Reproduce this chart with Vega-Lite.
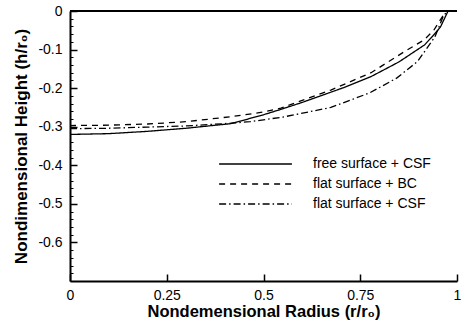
{
  "$schema": "https://vega.github.io/schema/vega-lite/v6.json",
  "width": 387,
  "height": 270,
  "autosize": "none",
  "padding": {"left": 70, "top": 11, "right": 5, "bottom": 39},
  "config": {"view": {"stroke": null}, "font": "Liberation Sans"},
  "data": {
    "values": [
      {"series": "free surface + CSF", "r": 0, "h": -0.32},
      {"series": "free surface + CSF", "r": 0.1, "h": -0.318},
      {"series": "free surface + CSF", "r": 0.2, "h": -0.312},
      {"series": "free surface + CSF", "r": 0.3, "h": -0.304},
      {"series": "free surface + CSF", "r": 0.416, "h": -0.292},
      {"series": "free surface + CSF", "r": 0.5, "h": -0.269},
      {"series": "free surface + CSF", "r": 0.545, "h": -0.255},
      {"series": "free surface + CSF", "r": 0.6, "h": -0.237},
      {"series": "free surface + CSF", "r": 0.709, "h": -0.198},
      {"series": "free surface + CSF", "r": 0.778, "h": -0.17},
      {"series": "free surface + CSF", "r": 0.85, "h": -0.132},
      {"series": "free surface + CSF", "r": 0.916, "h": -0.088},
      {"series": "free surface + CSF", "r": 0.94, "h": -0.062},
      {"series": "free surface + CSF", "r": 0.957, "h": -0.042},
      {"series": "free surface + CSF", "r": 0.977, "h": 0},
      {"series": "flat surface + BC", "r": 0, "h": -0.297},
      {"series": "flat surface + BC", "r": 0.1, "h": -0.296},
      {"series": "flat surface + BC", "r": 0.2, "h": -0.293},
      {"series": "flat surface + BC", "r": 0.3, "h": -0.287},
      {"series": "flat surface + BC", "r": 0.416, "h": -0.274},
      {"series": "flat surface + BC", "r": 0.5, "h": -0.262},
      {"series": "flat surface + BC", "r": 0.545, "h": -0.252},
      {"series": "flat surface + BC", "r": 0.674, "h": -0.205},
      {"series": "flat surface + BC", "r": 0.778, "h": -0.16},
      {"series": "flat surface + BC", "r": 0.863, "h": -0.106},
      {"series": "flat surface + BC", "r": 0.915, "h": -0.075},
      {"series": "flat surface + BC", "r": 0.94, "h": -0.05},
      {"series": "flat surface + BC", "r": 0.962, "h": -0.015},
      {"series": "flat surface + BC", "r": 0.972, "h": 0},
      {"series": "flat surface + CSF", "r": 0, "h": -0.305},
      {"series": "flat surface + CSF", "r": 0.1, "h": -0.304},
      {"series": "flat surface + CSF", "r": 0.2, "h": -0.301},
      {"series": "flat surface + CSF", "r": 0.3, "h": -0.298},
      {"series": "flat surface + CSF", "r": 0.4, "h": -0.292},
      {"series": "flat surface + CSF", "r": 0.465, "h": -0.287},
      {"series": "flat surface + CSF", "r": 0.55, "h": -0.275},
      {"series": "flat surface + CSF", "r": 0.674, "h": -0.25},
      {"series": "flat surface + CSF", "r": 0.775, "h": -0.212},
      {"series": "flat surface + CSF", "r": 0.844, "h": -0.174},
      {"series": "flat surface + CSF", "r": 0.898, "h": -0.131},
      {"series": "flat surface + CSF", "r": 0.943, "h": -0.067},
      {"series": "flat surface + CSF", "r": 0.964, "h": -0.015},
      {"series": "flat surface + CSF", "r": 0.975, "h": 0}
    ]
  },
  "layer": [
    {
      "mark": {"type": "line", "color": "black", "strokeWidth": 1.3},
      "encoding": {
        "x": {
          "field": "r", "type": "quantitative",
          "scale": {"domain": [0, 1], "nice": false, "zero": false},
          "axis": {
            "values": [0, 0.25, 0.5, 0.75, 1],
            "format": ".2~f",
            "grid": false,
            "domainColor": "black", "domainWidth": 2,
            "tickColor": "black", "tickSize": -7, "tickWidth": 1.5,
            "labelPadding": 14, "labelFontSize": 14, "labelColor": "black",
            "labelFlush": false, "labelBound": false,
            "title": "Nondemensional Radius (r/r₀)",
            "titleFontSize": 16.5, "titleFontWeight": "bold", "titleColor": "black",
            "titlePadding": 1
          }
        },
        "y": {
          "field": "h", "type": "quantitative",
          "scale": {"domain": [-0.7, 0], "nice": false, "zero": false},
          "axis": {
            "values": [-0.6, -0.5, -0.4, -0.3, -0.2, -0.1, 0],
            "labelExpr": "datum.value == 0 ? '0' : '-0.' + round(-datum.value * 10)",
            "grid": false,
            "domainColor": "black", "domainWidth": 2,
            "tickColor": "black", "tickSize": -7, "tickWidth": 1.5,
            "labelPadding": 15, "labelFontSize": 14, "labelColor": "black",
            "labelBound": false, "labelFlush": false,
            "title": "Nondimensional Height (h/r₀)",
            "titleFontSize": 17, "titleFontWeight": "bold", "titleColor": "black",
            "titlePadding": 7
          }
        },
        "strokeDash": {
          "field": "series", "type": "nominal",
          "scale": {
            "domain": ["free surface + CSF", "flat surface + BC", "flat surface + CSF"],
            "range": [[1, 0], [6, 5], [7, 3, 1.5, 3]]
          },
          "legend": {
            "orient": "none", "legendX": 148, "legendY": 143,
            "title": null,
            "symbolType": "stroke", "symbolSize": 5300,
            "clipHeight": 20, "rowPadding": 0,
            "symbolStrokeColor": "black", "symbolStrokeWidth": 1.3,
            "labelFontSize": 14, "labelColor": "black", "labelOffset": 20
          }
        }
      }
    },
    {
      "mark": {"type": "rule", "color": "black", "strokeWidth": 2},
      "encoding": {
        "y": {
          "datum": 0, "type": "quantitative",
          "scale": {"domain": [-0.7, 0], "nice": false, "zero": false},
          "axis": {
            "orient": "left",
            "values": [-0.68, -0.66, -0.64, -0.62, -0.58, -0.56, -0.54, -0.52, -0.48, -0.46, -0.44, -0.42, -0.38, -0.36, -0.34, -0.32, -0.28, -0.26, -0.24, -0.22, -0.18, -0.16, -0.14, -0.12, -0.08, -0.06, -0.04, -0.02],
            "labels": false, "domain": false, "grid": false,
            "tickColor": "black", "tickSize": -3, "tickWidth": 1,
            "title": null
          }
        }
      }
    }
  ],
  "resolve": {"scale": {"y": "independent"}}
}
